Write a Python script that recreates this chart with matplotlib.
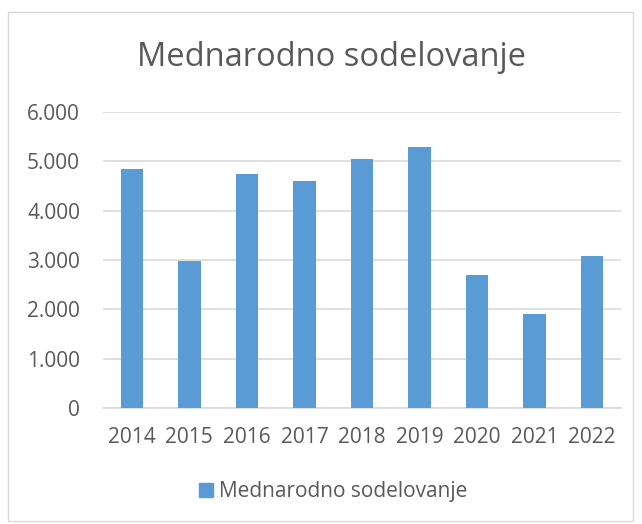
import numpy as np
import matplotlib.pyplot as plt
from matplotlib.patches import Rectangle

years = ['2014', '2015', '2016', '2017', '2018', '2019', '2020', '2021', '2022']
values = [4845, 2980, 4740, 4595, 5055, 5300, 2700, 1905, 3075]
yticks = [0, 1000, 2000, 3000, 4000, 5000, 6000]
ytick_labels = ['0', '1.000', '2.000', '3.000', '4.000', '5.000', '6.000']
series_name = 'Mednarodno sodelovanje'

bar_color = '#5B9BD5'
text_color = '#595959'
grid_color = '#D9D9D9'

plt.rcParams['font.family'] = ['Open Sans', 'DejaVu Sans']

fig = plt.figure(figsize=(6.42, 5.24), dpi=100)
fig.patches.append(Rectangle((8 / 642, 1 - 521 / 524), 625 / 642, 509 / 524,
                             transform=fig.transFigure, fill=False,
                             edgecolor=grid_color, linewidth=1))

ax = fig.add_axes([103 / 642, 1 - 408 / 524, 518 / 642, 296 / 524])
x = np.arange(len(years))
ax.bar(x, values, width=0.39, color=bar_color, zorder=3)
ax.set_xlim(-0.5, len(years) - 0.5)
ax.set_ylim(0, 6000)
ax.set_yticks(yticks)
ax.set_yticklabels(ytick_labels)
ax.set_xticks(x)
ax.set_xticklabels(years)
ax.yaxis.grid(True, color=grid_color, linewidth=1.2, zorder=0)
for s in ['top', 'right', 'left']:
    ax.spines[s].set_visible(False)
ax.spines['bottom'].set_color(grid_color)
ax.spines['bottom'].set_linewidth(1.2)
ax.tick_params(axis='both', length=0, colors=text_color, labelsize=15)
ax.tick_params(axis='y', pad=16.5)
ax.tick_params(axis='x', pad=14)

fig.text(0.517, 1 - 57 / 524, 'Mednarodno sodelovanje', ha='center', va='center',
         fontsize=23.5, color=text_color)

fig.legend([Rectangle((0, 0), 1, 1, color=bar_color)], [series_name],
           loc='center', bbox_to_anchor=(0.519, 1 - 492 / 524), frameon=False,
           fontsize=15, labelcolor=text_color, handlelength=0.65, handleheight=0.65,
           handletextpad=0.3)

fig.savefig('out.png', dpi=100)
